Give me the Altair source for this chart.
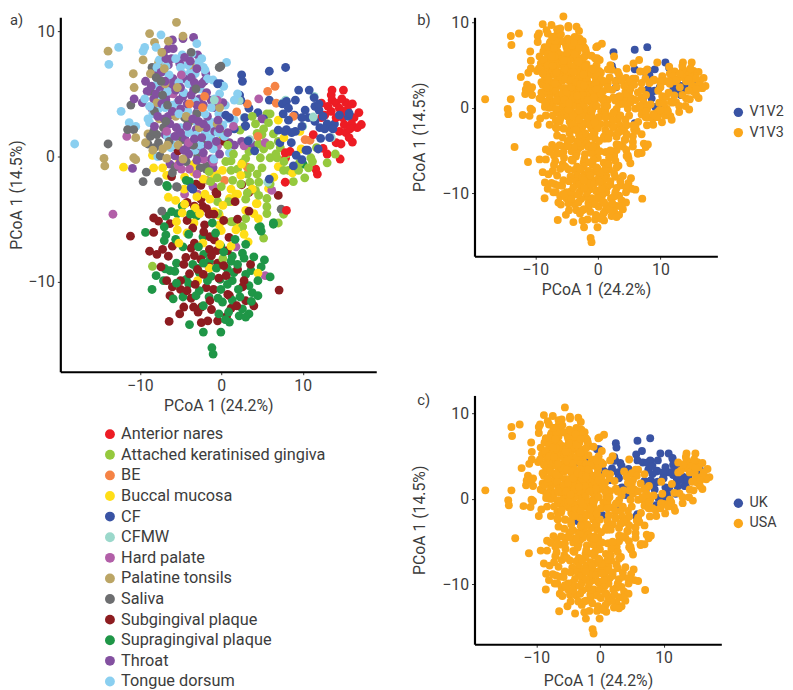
import altair as alt
import pandas as pd

anterior_nares = [(13.6,5.3),(15,5.3),(12.3,4.25),(13.6,4.5),(14.1,4.25),(15.3,4.3),(16.1,4.2),(14.5,3.85),(13.5,3.6),(12.7,3.3),(16.9,3.5),(16.3,3.1),(17.2,2.55),(16.7,2.3),(12.3,3.1),(15.1,2.55),(14.5,2),(15.3,1.9),(16.1,1.15),(15.7,1.5),(14.1,1.1),(14.7,1),(12.5,.65),(13,.2),(14.6,-.2),(11.6,-1),(11.8,-1.4),(7.85,-2.05),(7.9,-.1),(7.85,.3),(8.45,.4),(8,-4.3),(11.3,1.75),(13.1,4),(15.5,3.7),(14.1,3.1),(14.9,3.1),(16,2.6),(15,3.6),(15.8,2.2),(13.5,4.9),(14.8,4.6)]
attached_gingiva = [(6,3.4),(5.6,3.4),(5,1.75),(4.4,1.85),(7,1.2),(7.25,.7),(.15,1.7),(-.65,1.1),(4.8,-.1),(6,-.1),(6.85,-.1),(11,-.1),(.55,-.4),(1.2,-.35),(2,-1),(3.2,-1.4),(4.4,-1.4),(7.65,-1.1),(8.25,-1.1),(10.25,-1.7),(8.85,-2),(3.5,-2.05),(4.2,-2.7),(5.6,-3.35),(5.6,-4),(5.6,-4.55),(7,-5.3),(6.5,-5.3),(7.65,-4.6),(-.3,-4.55),(1.2,-5.2),(2.6,-5.6),(-.45,-3.6),(11.7,.7),(3,-.15),(4.6,-2.05),(-8.45,-8.75),(.2,-8.15),(1.4,-5.2),(2.6,-5.6),(3,-4.95),(5.2,-6.5),(-.45,-4.55),(-1.05,.65),(3.4,.4),(4.6,1),(5.2,.6),(6.4,1.8),(5.8,2.7),(6.7,.2),(8,.2),(2.3,2.1),(.8,.9),(1.5,.2),(2.6,-.5),(3.6,-.9),(5,-.9),(1.2,-1.1),(2.4,-2.2),(4.6,-3.1),(-1.5,-1.2),(0,-2.4),(-1.3,-2),(3,-3.4),(9.6,-.5),(7.7,-.4),(.9,-3.6),(6,-2.2),(4.2,2.6),(3.8,3.2),(5.2,2.2),(6,.9),(9.5,-1.1),(10.7,-.9),(11.2,-.4),(13,-.5),(14,.2),(-.5,-1.7),(1.4,-1.9),(3.2,-2.9)]
be = [(6.6,5.6),(5.7,5.2),(3.2,4.2),(6.75,4.25),(1.9,3.55),(8.85,3.2),(10.3,1.35),(10.9,1.3),(13.1,2.4),(3.2,-.85),(.4,-1.9),(4.5,1.6),(-3.9,4.2),(-2.3,3.9),(-2.05,4.8)]
buccal_mucosa = [(-12,-.85),(-8.3,-.9),(-8.45,.1),(-3.35,-.6),(-3.4,-1.25),(-6.7,-1.5),(-5.1,-.35),(-.85,-1.5),(-4.5,-1.65),(7,2.9),(9.65,2),(9.8,.6),(7,-.8),(6.45,-1.65),(-.65,-1.4),(.15,-1.1),(2.4,-1.5),(1.2,-2.6),(1,-3.35),(1.8,-3),(1.2,-3.6),(5.8,-2.55),(8.75,-1.3),(4.3,-3.75),(3,-4.3),(4,-4.55),(4.55,-4.95),(-.25,-4.7),(-.25,-5.45),(2,-5.65),(-6.5,-3.25),(-4.55,-2.6),(-5.5,-5.2),(-5.4,-5.85),(-3.35,-5.3),(-2.65,-4.55),(-.85,-4.4),(1.2,-7.15),(-2.25,-6.9),(1.8,-5.85),(4.5,-9.3),(-2.9,-9.9),(-1.45,-8.9),(4.4,-3.75),(1,-3.5),(2,-3),(-7.2,-.9),(-2.2,-1.8),(2.5,-.6),(3.8,-2.6),(-1.4,-3.4),(0,-5.9),(2.8,-6.2),(-3.2,-4.1),(.2,-3.9),(3.3,-6.8),(7.7,1.5),(-4.2,-6.1),(-4.8,-4.5),(-.2,-7),(-5.2,-6.9),(-2,-3),(-3,-3.2),(-4.5,-3.8),(-5.6,-3.5)]
cf_v1v2 = [(2.5,6.5),(5.9,6.8),(7.9,7.1),(10.8,5.3),(11.4,4.7),(5.9,4.5),(2.25,4.9),(2.4,4.5),(7.5,4.2),(8,4.4),(9.1,4.5),(12,4.2),(2.9,3.1),(2.9,2.4),(8,2.15),(9.1,2),(9.9,2.4),(12.1,2.3),(13.9,2.6),(13.3,1.5),(15.6,3.2),(3.3,1.25),(7.2,1.1),(8.6,1.1),(9.2,.1),(10.4,.5),(5.9,-1.8),(8.25,3.85),(7.8,2),(8.65,1.9),(13,2.6),(12.7,2.2),(13.7,2.2)]
cf_v1v3 = [(2.6,6),(-.1,5.8),(9.5,5.3),(3.4,3.85),(4.5,3.5),(5.2,3),(7.6,3.4),(9,3.3),(10.3,3.7),(11.5,4),(12,3.7),(10.7,3.1),(9.9,3.1),(11.5,2.8),(12.5,3.2),(8.25,2.9),(7,2.1),(3,2.45),(1.6,2.2),(.55,3.3),(1,3.1),(4.1,.45),(10.6,.5),(9.9,-.25),(8.85,-.75),(12.2,1.45),(15.7,3.45),(11.9,.6),(-3.7,-2.5),(-.45,5.8),(-3.5,-2.6),(14.5,3.3)]
cfmw = [(11.4,4.8),(7.9,4.5),(7.5,4.25),(2.2,4.45),(2.8,3.1),(10,2.4),(11.3,3.15),(13.5,1.5),(3.5,1.35),(5.7,-2.05),(-.85,4.5)]
hard_palate = [(-11.6,1.6),(-13.3,-4.6),(-1,-2.4),(-2.9,-3),(-4.5,-3),(5.4,-9.5),(1.8,-7.2),(-5.5,2.3),(-.45,.85),(-4.9,-1),(-5.9,5),(-3.9,-1),(-1,-2.4),(4.6,4.6),(-1,-.45),(5.4,1.1),(2.8,.85),(6.2,-2.7),(-6.7,2),(-5.3,-.7),(-2.2,-.2),(-4.9,6.5),(-4,1.1),(-.5,4.5),(1.5,2.4),(-3,-1.4)]
palatine_tonsils = [(-5.5,10.7),(-8.8,9.8),(-8.2,9.1),(-4.7,9.6),(-13.9,8.4),(-9.6,7.7),(-7.7,7.5),(-10.8,6.6),(-8.7,6.6),(-10.7,5.5),(-3.8,7.3),(-7.9,4.3),(-7.6,3),(-5.6,3.2),(-9,1.8),(-10.5,1.5),(-9.3,1.1),(-14.4,-.15),(-14.3,-.75),(-10.75,-.1),(-10.5,-.25),(-7.2,.6),(-6.7,-.15),(-3.1,1.1),(-1.7,-1.9),(-6.5,9.2),(-6.9,5.8),(-3.9,2.8),(-.2,3.9),(-.5,2.6),(-7,7),(-5.4,5.5),(-4.3,3.2),(-5.3,.9),(-2.7,2.3),(-7.3,8.3),(-6.6,.9),(-8.4,.5),(-4.7,-.2)]
saliva = [(-13.9,1),(-11.1,4.1),(-11.5,2.15),(-10.75,2.15),(-9,1),(-7.9,1.75),(-7.7,1.1),(-8.7,5.2),(-7.1,4.6),(-8.5,7.1),(-3.7,8.3),(-4.5,3.1),(-7.1,2.3),(-4.7,1.35),(-2.1,1),(-2.9,.05),(-1.85,-.75),(-9.2,-1.25),(-9.6,-2),(-7.7,-2),(-5.5,-2.4),(-5.7,-.85),(-.25,7.1),(-7.5,.05),(-8.7,1.6),(-1.85,-1),(-.05,7.2),(-5.4,-2.45),(-7.3,-4.35),(7.35,-4.2),(-8.2,3.6),(-7.2,4.9),(-6.6,4.1),(-8.3,2),(-8.2,.7),(-6.4,1.2),(-5.4,1.6),(-4.1,2.6),(-3,3.4),(-3.4,.9),(-4.3,-.4),(-6,-1.3),(-2.6,-.9),(-6.8,2.8),(-8,6.3),(-7.4,6),(-3.1,5.4)]
subgingival_plaque = [(-11.15,-6.35),(-8.3,-6.05),(-8.3,-4.9),(-7.7,-5.15),(-6.3,-5.35),(-8.8,-7.55),(-7.9,-7.8),(-7.2,-7.4),(-6.5,-7.95),(-6,-7.15),(-3.3,-3.95),(-2.3,-3.95),(-1.8,-4.15),(-1.5,-4.6),(-4.2,-3.65),(-.55,-3),(-2.05,-5.45),(-2.15,-6),(-1.4,-6.4),(-.85,-6.65),(.95,-6.45),(-3.3,-6.9),(-3.7,-7.3),(-3.3,-7.9),(-4.35,-8.05),(-4.6,-8.6),(-1.45,-7.4),(-.55,-7.5),(.75,-7.5),(-.45,-8.5),(-1.5,-8.8),(-3.9,-9.35),(-5,-9.9),(-5,-10.6),(-6.3,-11.1),(-3.7,-11.3),(-1.85,-10.45),(-.95,-10.6),(1,-11.1),(-3.4,-12),(-2.45,-12),(-2.85,-12.4),(-5.1,-12.55),(-6.4,-13.15),(-2.45,-13.25),(-1.65,-13.1),(-.45,-13.1),(.65,-12.75),(1.2,-12.1),(3,-11.5),(4,-11.9),(7.1,-10.65),(2.8,-9.9),(2.6,-10.4),(.35,1.2),(2.5,-2.25),(-.55,-2.95),(3.4,-2.85),(7,-3.1),(3.4,-4.35),(-1.45,-4.55),(-5.3,.7),(-5.3,.45),(-6.1,-1.6),(-2.5,-2.3),(-3.1,-2.2),(-.65,-2.85),(-1.4,-11.5),(-.3,-9.7),(.6,-9.5),(-2.5,-8.2),(-4.6,-12),(2,-9),(1.9,-11.9),(-2.9,-9),(-1.2,-12.2),(3.6,-8.6),(-4.2,-5.1),(-3.5,-5.7),(.3,-5.1),(-6.7,-9.9),(-7.4,-8.8),(-2.5,-3.4),(1.7,-3.6),(2,-5),(-.9,-4.6),(-6,-10.4),(-4.2,-10.7),(-3.2,-10.2),(-2.2,-9.4),(.3,-8.7),(.8,-11),(-1.2,-7.9)]
supragingival_plaque = [(-9.3,-6.05),(-6.6,-2.4),(-6.8,-4.75),(-6.1,-4.4),(-5.4,-4.55),(-4.8,-3.95),(-3.05,-4.75),(-7,-5.6),(-6.8,-6.25),(-7,-6.7),(-5.6,-6.6),(-2.25,-6.4),(-.05,-7.15),(-2.15,-7.8),(-1.45,-8.35),(1.35,-7.95),(2.6,-7.7),(2.8,-8.1),(1.2,-8.35),(5.3,-8.25),(4.9,-8.8),(-5.5,-8.5),(-6.9,-8.95),(-6.3,-9.1),(-5.7,-9.15),(-7.1,-9.9),(-8.5,-10.6),(-3.5,-8.6),(-3,-8.9),(-2.7,-9.25),(-4.3,-9.8),(-4,-10.15),(-1.25,-9.55),(-.15,-9.8),(.75,-8.95),(1.55,-9.25),(1.35,-9.9),(.75,-10.2),(3,-9.4),(3.65,-9.1),(3.4,-10.3),(3.8,-10.85),(4.5,-11.1),(6,-9.6),(-.05,-10.6),(-2.7,-10.7),(-3.1,-11.1),(-4.7,-11.2),(-5.9,-11.35),(-1.5,-11.2),(.15,-11.6),(1.35,-11.45),(3.7,-11.55),(2.6,-12.15),(3.4,-12.55),(2.2,-12.7),(3,-12.8),(-.3,-12.55),(1,-13.2),(-3.9,-13.4),(-.05,-14),(-1.15,-15.25),(-1,-15.75),(4.8,-5.6),(4.9,-5.95),(10.05,-.6),(4.6,-5.65),(6.4,-5.4),(-6.7,-2.3),(-4.3,-1.9),(-3.9,-2),(6.4,-5.3),(-2.2,-11.9),(-.4,-11.3),(.9,-12.4),(2.1,-10.6),(-1.7,-9.9),(-.6,-8.9),(-2.2,-8.5),(.3,-7.6),(-.7,-6.1),(-4.7,-7.2),(-3.8,-4.6),(-1.1,-5.3),(-8,-9.5),(1.7,-6.6),(2.3,-11.2),(4.5,-9.9),(.5,-13),(-2.2,-14),(-4,-6.2),(-2.8,-7.2),(2,-8.6),(4,-8),(3,-7),(-5.5,-10.1)]
throat = [(-6,9.3),(-3.4,9.5),(-4.7,9.4),(-6.5,8.6),(-7.1,8.3),(-5.9,8.6),(-2.9,8.1),(-6.1,7.8),(-5.1,7.4),(-6.5,7.3),(-7.9,6.5),(-1.9,6.6),(-9.3,6),(-5.9,6.2),(-4.5,6.2),(-2.1,6),(-6.1,5.7),(-9.1,5.2),(-10.7,4.6),(-9.7,4.3),(-8.3,4.6),(-6.5,5),(-4.7,4.8),(-3.4,5.3),(-8.5,3.8),(-2.7,4.6),(-1.25,4.5),(-.85,3.9),(-6.5,3.2),(-1.7,3.2),(-6.3,2.6),(-3.1,2.15),(-5.5,2.3),(-6.9,1.75),(-4.1,.85),(-1.85,2.3),(-5.7,.05),(-1.25,-.2),(-6.3,-.6),(-10.9,-.95),(-3,3.5),(-4.5,1.5),(-2.5,.8),(-5,3.8),(-.8,2),(-7.5,5.3),(.2,4.3),(1,1.1),(1.6,.9),(2.5,1.2),(3.7,1),(5,3),(-1,-.9),(-8.6,5.6),(-8,5),(-7.3,4.2),(-6.8,4.5),(-6,3.6),(-5.2,4.5),(-4.2,4.2),(-3.7,4.9),(-3,4.1),(-2.2,4.1),(-1.8,5.1),(-2.4,5.8),(-3.3,5.9),(-3.7,6.3),(-5,5.5),(-5.6,5.3),(-6.9,6),(-7.4,6.7),(-6.8,7.8),(-4.5,7.9),(-3.8,7.6),(-3,7),(-7.8,3.2),(-8.2,2.4),(-7,3),(-5.7,1.6),(-5,1.9),(-4.2,2.4),(-3.5,3),(-2.8,2.8),(-2.2,2.6),(-2.4,1.5),(-3.3,1.4),(-4,.2),(-5,-.4),(-2.2,.3),(-1.6,.9),(-.6,1.2),(-.4,2.9),(-.2,2.2),(.8,1.9),(-.2,.2),(-3,-.3),(-4.6,.5)]
tongue_dorsum = [(-12.6,8.7),(-13.8,7.35),(-18,1),(-12.3,3.6),(-11.3,2.7),(-10.5,2.4),(-7.4,9.7),(-9.4,8.7),(-9.6,8.4),(-8,8.7),(-3,9),(-5.6,7.8),(-4.8,8.1),(-3.6,8.2),(-2.4,7.8),(-2.8,7.5),(-7.2,6.75),(-6.4,6.5),(-4.8,6.6),(-3.8,6.7),(-3.2,6.6),(-4,5.8),(-8,5.7),(-2.6,5.4),(-9.4,4.6),(-6,4.1),(-5.4,4.3),(-7.7,3.8),(-4.1,3.6),(-9,3),(-8.8,2.7),(-1.7,6.2),(-3.2,2.8),(-1.5,2.8),(-5,2.3),(-2,2),(-1.6,1.5),(-3.2,.5),(-7.8,0),(-6.2,.7),(-1.2,2.2),(.65,7.5),(-1,6.1),(2,5),(1.6,4.5),(.5,4.1),(-.85,2.7),(.2,2.5),(-1.25,1.5),(1,.3),(-.3,3.4),(-.8,4.6),(-7.6,7.7),(-7.9,7.1),(-6.8,7.2),(-5,7.1),(-4.1,7.3),(-2.2,7.1),(-2,6.9),(-5.2,5.9),(-6.6,5.2),(-7.4,4.9),(-4.6,5.1),(-3.2,4.4),(-2.7,3.6),(-6.9,3.9),(-5.2,3.4),(-8.4,3.4),(-4,1.9),(-3.1,1.7),(-2.6,.9),(-1.2,3.9),(-.4,1.9),(.4,1.6),(-1,.6),(-6.6,1.6),(-5.9,.9),(.9,3),(1.6,2.9),(-.2,5),(.3,5.6),(-8.8,4),(-2,3.4),(-1.4,1),(-.9,-.2)]

site_names = ["Anterior nares","Attached keratinised gingiva","BE","Buccal mucosa","CF","CFMW","Hard palate","Palatine tonsils","Saliva","Subgingival plaque","Supragingival plaque","Throat","Tongue dorsum"]
site_colors = ["#ED1C24","#95C93D","#F58345","#FFDE17","#3953A4","#9BD8CB","#B25FA8","#BBA565","#6D6E70","#8D1C20","#1F9647","#8350A0","#8ACFF0"]
tick_values = [-10,0,10]
FONT = "Roboto"
TEXT = "#3c3c3c"

# relative stacking weight of each site in panel a (later rows are drawn on top)
stack_weight = {"CF": 1.25, "Tongue dorsum": 0.8, "Throat": 1.05, "Anterior nares": 0.9}

groups = [("Anterior nares",anterior_nares,"V1V3","USA"),("Attached keratinised gingiva",attached_gingiva,"V1V3","USA"),("BE",be,"V1V3","UK"),("Buccal mucosa",buccal_mucosa,"V1V3","USA"),("CF",cf_v1v2,"V1V2","UK"),("CF",cf_v1v3,"V1V3","UK"),("CFMW",cfmw,"V1V3","UK"),("Hard palate",hard_palate,"V1V3","USA"),("Palatine tonsils",palatine_tonsils,"V1V3","USA"),("Saliva",saliva,"V1V3","USA"),("Subgingival plaque",subgingival_plaque,"V1V3","USA"),("Supragingival plaque",supragingival_plaque,"V1V3","USA"),("Throat",throat,"V1V3","USA"),("Tongue dorsum",tongue_dorsum,"V1V3","USA")]
rows = []
for g_i, (site, pts, region, country) in enumerate(groups):
    for i, (x, y) in enumerate(pts):
        rows.append(dict(x=x, y=y, site=site, region=region, country=country, rank=(i + 1) / len(pts) * stack_weight.get(site, 1), g=g_i))
df = pd.DataFrame(rows).sort_values(["rank", "g"])
df_a = df[["x","y","site"]]
df_b = df.sort_values("region", kind="stable")[["x","y","region"]]
df_c = df.sort_values("country", kind="stable")[["x","y","country"]]

def axis(title_pad, label_pad, title):
    return alt.Axis(values=tick_values, grid=False, title=title, domainColor="black", domainWidth=2.2, tickColor="#333333", tickSize=3, labelFont=FONT, labelFontSize=16, labelColor=TEXT, labelPadding=label_pad, titleFont=FONT, titleFontSize=16, titleFontWeight="normal", titleColor=TEXT, titlePadding=title_pad, labelFlush=False)

def tag(text, x, y):
    return alt.Chart(pd.DataFrame({"t":[text]})).mark_text(font=FONT, fontSize=15, color=TEXT, align="left", baseline="middle").encode(text="t:N", x=alt.value(x), y=alt.value(y))

def panel(data, color_field, domain, colors, xdom, ydom, w, h, size, legend, label, lx, ly, ypad, xpad):
    pts = alt.Chart(data).mark_circle(size=size, opacity=1).encode(
        x=alt.X("x:Q", scale=alt.Scale(domain=xdom, nice=False, zero=False), axis=axis(xpad, 3, "PCoA 1 (24.2%)")),
        y=alt.Y("y:Q", scale=alt.Scale(domain=ydom, nice=False, zero=False), axis=axis(ypad, 3, "PCoA 1 (14.5%)")),
        color=alt.Color(color_field + ":N", scale=alt.Scale(domain=domain, range=colors), legend=legend),
    )
    return (pts + tag(label, lx, ly)).properties(width=w, height=h)

legend_a = alt.Legend(title=None, orient="none", legendX=42, legendY=414, labelFont=FONT, labelFontSize=16.5, labelColor=TEXT, symbolSize=100, symbolType="circle", rowPadding=3.87, labelLimit=300, labelOffset=3)
def legend_small(y):
    return alt.Legend(title=None, orient="none", legendX=260, legendY=y, labelFont=FONT, labelFontSize=14.5, labelColor=TEXT, symbolSize=90, symbolType="circle", rowPadding=5.5, labelLimit=100, labelOffset=4)

a = panel(df_a, "site", site_names, site_colors, [-19.76, 19.03], [-17.16, 11.1], 320, 359, 80, legend_a, "a)", -51, 3, 3, 4)
b = panel(df_b, "region", ["V1V2","V1V3"], ["#3953A4","#FAA61A"], [-19.7, 19.1], [-17.4, 10.6], 246, 242, 64, legend_small(89), "b)", -58, 3, 14, 4)
c = panel(df_c, "country", ["UK","USA"], ["#3953A4","#FAA61A"], [-19.7, 19.07], [-17.0, 12.1], 250, 252, 64, legend_small(102), "c)", -58, 5, 14, 7)

right = alt.vconcat(b, c, spacing=97).resolve_scale(color="independent")
chart = alt.hconcat(a, right, spacing=35.5).resolve_scale(color="independent").properties(padding=0).configure_view(stroke=None)

chart.save("out.html", embed_options={"renderer": "svg", "actions": False})
